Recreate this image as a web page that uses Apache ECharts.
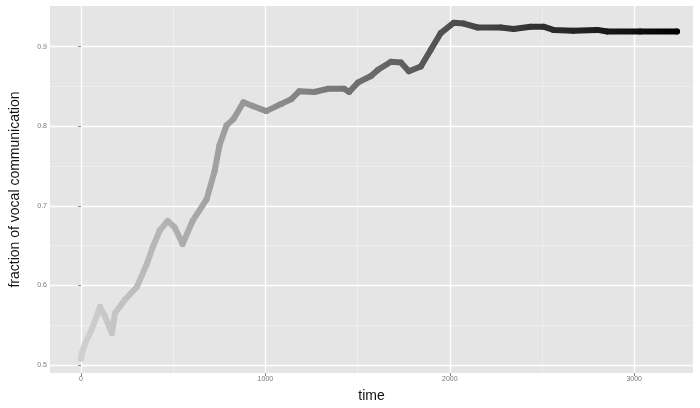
<!DOCTYPE html>
<html>
<head>
<meta charset="utf-8">
<script src="https://cdn.jsdelivr.net/npm/echarts@6/dist/echarts.min.js"></script>
<style>html,body{margin:0;padding:0;background:#fff}#c{width:700px;height:408px}</style>
</head>
<body>
<div id="c"></div>
<script>
var times = [0, 5, 22, 59, 103, 130, 168, 184, 238, 303, 357, 389, 427, 470, 508, 551, 605, 681, 724, 751, 789, 827, 881, 935, 1005, 1086, 1141, 1184, 1265, 1341, 1427, 1454, 1503, 1573, 1611, 1681, 1735, 1778, 1843, 1897, 1951, 2022, 2076, 2151, 2276, 2346, 2438, 2508, 2562, 2670, 2800, 2854, 3032, 3232];
var values = [0.508, 0.515, 0.527, 0.545, 0.573, 0.561, 0.540, 0.565, 0.582, 0.598, 0.627, 0.648, 0.669, 0.681, 0.673, 0.652, 0.681, 0.708, 0.743, 0.776, 0.801, 0.809, 0.830, 0.825, 0.819, 0.828, 0.834, 0.844, 0.843, 0.847, 0.847, 0.843, 0.855, 0.863, 0.871, 0.881, 0.880, 0.869, 0.875, 0.896, 0.917, 0.930, 0.929, 0.924, 0.924, 0.922, 0.925, 0.925, 0.921, 0.920, 0.921, 0.919, 0.919, 0.919];
var xMajorTicks = [0, 1000, 2000, 3000];
var xMinorTicks = [500, 1500, 2500];
var yMajorTicks = [0.5, 0.6, 0.7, 0.8, 0.9];
var yMinorTicks = [0.55, 0.65, 0.75, 0.85];
var xTickLabels = ['0', '1000', '2000', '3000'];
var yTickLabels = ['0.5', '0.6', '0.7', '0.8', '0.9'];

var data = times.map(function (t, i) { return [t, values[i]]; });
var XMIN = -168, XMAX = 3319, YMIN = 0.490, YMAX = 0.951;
var font = 'Liberation Sans, Arial, sans-serif';

var chart = echarts.init(document.getElementById('c'), null, { renderer: 'canvas' });
chart.setOption({
  animation: false,
  backgroundColor: '#ffffff',
  grid: { left: 48, right: 7, top: 6, bottom: 31, backgroundColor: '#E5E5E5', show: true, borderWidth: 0 },
  xAxis: [{
    type: 'value', min: XMIN, max: XMAX,
    name: 'time', nameLocation: 'middle', nameGap: 16,
    nameTextStyle: { fontFamily: font, fontSize: 14, color: '#111' },
    axisLine: { show: false },
    axisTick: { show: true, length: 3, lineStyle: { color: '#888', width: 1 }, customValues: xMajorTicks },
    axisLabel: { fontFamily: font, fontSize: 7, color: '#777', margin: 3, customValues: xMajorTicks,
      formatter: function (v) { var i = xMajorTicks.indexOf(v); return i >= 0 ? xTickLabels[i] : ''; } },
    splitLine: { show: true, lineStyle: { color: '#ffffff', width: 1.3 } }
  }, {
    type: 'value', min: XMIN, max: XMAX, position: 'bottom',
    axisLine: { show: false }, axisLabel: { show: false },
    axisTick: { show: false, customValues: xMinorTicks },
    splitLine: { show: true, lineStyle: { color: '#F2F2F2', width: 0.7 } }
  }],
  yAxis: [{
    type: 'value', min: YMIN, max: YMAX,
    name: 'fraction of vocal communication', nameLocation: 'middle', nameGap: 28,
    nameTextStyle: { fontFamily: font, fontSize: 14, color: '#111' },
    axisLine: { show: false },
    axisTick: { show: true, length: 3, lineStyle: { color: '#888', width: 1 }, customValues: yMajorTicks },
    axisLabel: { fontFamily: font, fontSize: 7, color: '#777', margin: 3, customValues: yMajorTicks,
      formatter: function (v) { for (var i = 0; i < yMajorTicks.length; i++) { if (Math.abs(yMajorTicks[i] - v) < 1e-6) return yTickLabels[i]; } return ''; } },
    splitLine: { show: true, lineStyle: { color: '#ffffff', width: 1.3 } }
  }, {
    type: 'value', min: YMIN, max: YMAX, position: 'left',
    axisLine: { show: false }, axisLabel: { show: false },
    axisTick: { show: false, customValues: yMinorTicks },
    splitLine: { show: true, lineStyle: { color: '#F2F2F2', width: 0.7 } }
  }],
  visualMap: {
    show: false, type: 'continuous', dimension: 0, min: 0, max: 3232, seriesIndex: 0,
    inRange: { color: ['#d0d0d0', '#000000'] }
  },
  series: [{
    type: 'line', data: data, xAxisIndex: 0, yAxisIndex: 0,
    symbol: 'circle', symbolSize: 6, showSymbol: true,
    lineStyle: { width: 6, cap: 'round', join: 'round' },
    itemStyle: { borderWidth: 0 },
    z: 5
  }]
});
</script>
</body>
</html>
